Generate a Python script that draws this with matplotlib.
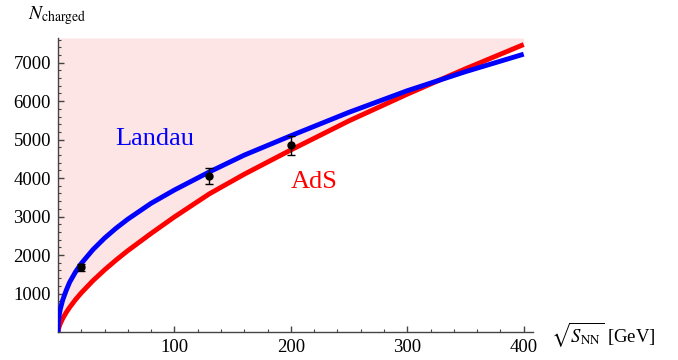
import numpy as np
import matplotlib
matplotlib.use("Agg")
import matplotlib.pyplot as plt
from matplotlib.ticker import MultipleLocator, FixedLocator

plt.rcParams['font.family'] = ['Liberation Serif', 'DejaVu Serif']
plt.rcParams['mathtext.fontset'] = 'stix'

# Data
energy = [0, 0.3, 1, 2, 4, 7, 10, 15, 20, 30, 40, 50, 60, 80, 100,
          130, 160, 200, 250, 300, 350, 400]
landau = [0, 245, 431, 598, 827, 1077, 1294, 1559, 1780, 2140, 2440, 2700, 2933, 3345, 3690,
          4160, 4597, 5100, 5710, 6270, 6765, 7220]
ads = [0, 62, 138, 219, 348, 505, 640, 840, 1017, 1333, 1614, 1873, 2115, 2562, 2990,
       3590, 4100, 4730, 5488, 6180, 6840, 7470]

data_energy = [19.6, 130, 200]
data_n = [1680, 4050, 4850]
data_err = [100, 210, 240]

x_max = 408
y_max = 7640

fig = plt.figure(figsize=(6.78, 3.6), dpi=100)
ax = fig.add_axes([58/678, 1 - 332/360, (533 - 58)/678, (332 - 38)/360])

ax.fill_between(energy, ads, y_max, color='#fde4e5', lw=0, zorder=1)
ax.plot(energy, landau, color='#0000ff', lw=3.5, zorder=3, solid_capstyle='butt')
ax.plot(energy, ads, color='#ff0000', lw=3.5, zorder=2, solid_capstyle='butt')
ax.errorbar(data_energy, data_n, yerr=data_err, fmt='o', color='black', ms=5,
            elinewidth=1, capsize=3, capthick=1, zorder=4)

ax.text(49, 4857, 'Landau', color='#0000ff', fontsize=19)
ax.text(200, 3740, 'AdS', color='#ff0000', fontsize=19)

ax.set_xlim(0, x_max)
ax.set_ylim(0, y_max)

for side in ['top', 'right']:
    ax.spines[side].set_visible(False)
for side in ['left', 'bottom']:
    ax.spines[side].set_color('#444444')
    ax.spines[side].set_linewidth(1)

ax.xaxis.set_major_locator(FixedLocator([100, 200, 300, 400]))
ax.xaxis.set_minor_locator(MultipleLocator(20))
ax.yaxis.set_major_locator(FixedLocator([1000, 2000, 3000, 4000, 5000, 6000, 7000]))
ax.yaxis.set_minor_locator(MultipleLocator(200))
ax.tick_params(which='both', direction='in', color='#444444', labelsize=13.5)
ax.tick_params(which='major', length=4.5, width=1, pad=5)
ax.tick_params(which='minor', length=2.5, width=0.8)

fig.text(28/678, 1 - 19/360, r'$N_{\rm charged}$', fontsize=14)
fig.text(551/678, 1 - 335/360, r'$\sqrt{S_{\rm NN}}$ [GeV]', fontsize=13.5, va='center')

fig.savefig('out.png', dpi=100)
